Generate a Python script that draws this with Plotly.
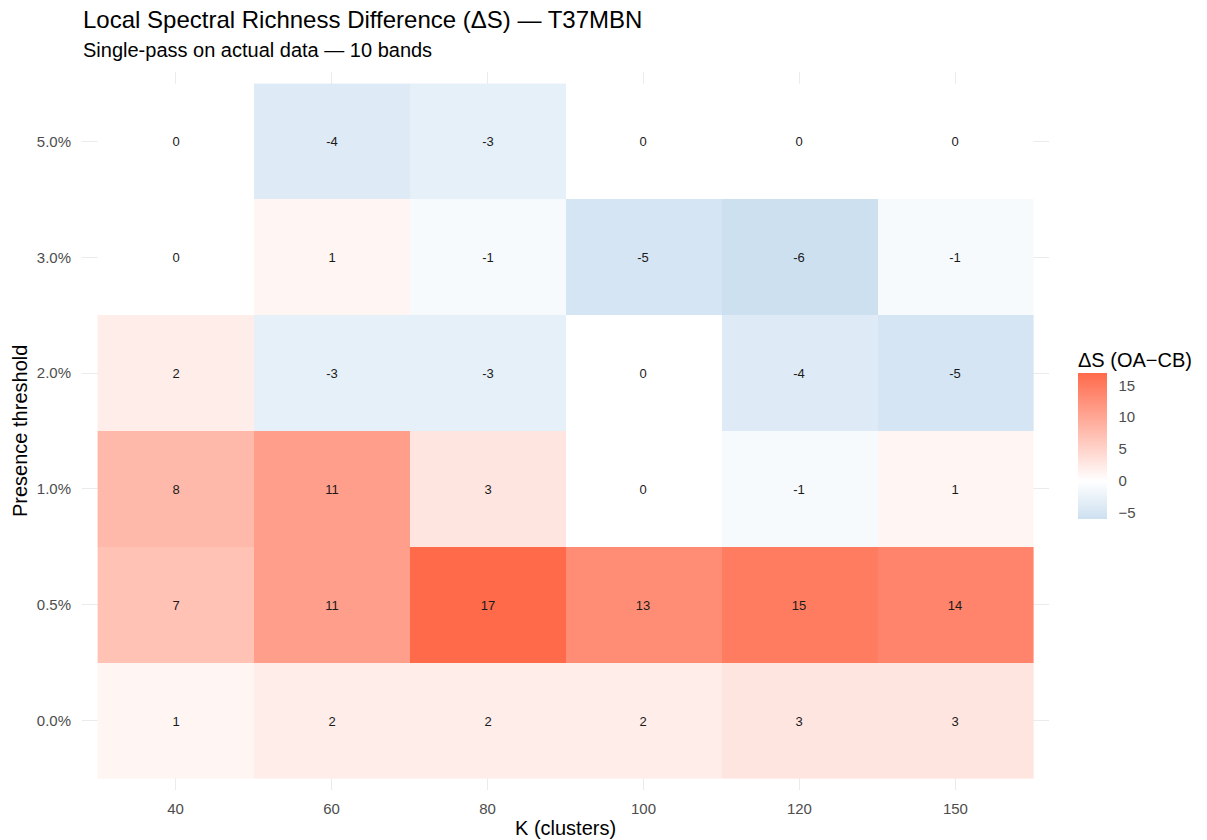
import plotly.graph_objects as go

# K values (columns) and presence thresholds (rows, bottom to top)
k_clusters = ["40", "60", "80", "100", "120", "150"]
thresholds = ["0.0%", "0.5%", "1.0%", "2.0%", "3.0%", "5.0%"]

# Delta S (OA - CB) per threshold row
ds_0_0 = [1, 2, 2, 2, 3, 3]
ds_0_5 = [7, 11, 17, 13, 15, 14]
ds_1_0 = [8, 11, 3, 0, -1, 1]
ds_2_0 = [2, -3, -3, 0, -4, -5]
ds_3_0 = [0, 1, -1, -5, -6, -1]
ds_5_0 = [0, -4, -3, 0, 0, 0]

legend_ticks = [-5, 0, 5, 10, 15]

z = [ds_0_0, ds_0_5, ds_1_0, ds_2_0, ds_3_0, ds_5_0]

zmin = min(min(r) for r in z)
zmax = max(max(r) for r in z)
mid = (0 - zmin) / (zmax - zmin)

FONT = "Arial, Liberation Sans, sans-serif"

fig = go.Figure(
    go.Heatmap(
        z=z,
        x=k_clusters,
        y=thresholds,
        zmin=zmin,
        zmax=zmax,
        colorscale=[[0, "#cde0f0"], [mid, "#ffffff"], [1, "#ff6a4b"]],
        text=z,
        texttemplate="%{text}",
        textfont=dict(family=FONT, size=13, color="#1a1a1a"),
        hoverinfo="x+y+z",
        colorbar=dict(
            thickness=29,
            lenmode="pixels",
            len=146,
            x=1.0305,
            xanchor="left",
            xpad=0,
            y=0.4795,
            yanchor="middle",
            ypad=0,
            outlinewidth=0,
            tickvals=legend_ticks,
            ticks="outside",
            ticklen=9,
            tickcolor="rgba(0,0,0,0)",
            tickfont=dict(family=FONT, size=15, color="#4d4d4d"),
        ),
    )
)

fig.update_layout(
    width=1207,
    height=840,
    margin=dict(l=82, r=158, t=72, b=50),
    paper_bgcolor="white",
    plot_bgcolor="white",
    font=dict(family=FONT),
    annotations=[
        dict(text="Local Spectral Richness Difference (ΔS) — T37MBN",
             xref="paper", yref="paper", x=0.0, y=1.0, xanchor="left", yanchor="top",
             yshift=68, xshift=-1, showarrow=False,
             font=dict(family=FONT, size=24, color="#000000")),
        dict(text="Single-pass on actual data — 10 bands",
             xref="paper", yref="paper", x=0.0, y=1.0, xanchor="left", yanchor="top",
             yshift=35, xshift=-1, showarrow=False,
             font=dict(family=FONT, size=20, color="#000000")),
        dict(text="ΔS (OA\u2212CB)",
             xref="paper", yref="paper", x=1.0305, y=0.4795, xanchor="left", yanchor="bottom",
             yshift=73, xshift=-2, showarrow=False,
             font=dict(family=FONT, size=20, color="#000000")),
        # axis titles
        dict(text="K (clusters)",
             xref="paper", yref="paper", x=0.5, y=0.0, xanchor="center", yanchor="middle",
             yshift=-38, showarrow=False,
             font=dict(family=FONT, size=20, color="#000000")),
        dict(text="Presence threshold", textangle=-90,
             xref="paper", yref="paper", x=0.0, y=0.5, xanchor="center", yanchor="middle",
             xshift=-62, showarrow=False,
             font=dict(family=FONT, size=20, color="#000000")),
    ],
)

fig.update_xaxes(
    type="category",
    range=[-0.6, 5.6],
    automargin=False,
    showgrid=True,
    gridcolor="#ebebeb",
    gridwidth=1,
    zeroline=False,
    showline=False,
    ticks="outside",
    ticklen=5,
    tickcolor="rgba(0,0,0,0)",
    tickfont=dict(family=FONT, size=15, color="#4d4d4d"),
)
fig.update_yaxes(
    type="category",
    range=[-0.6, 5.6],
    automargin=False,
    showgrid=True,
    gridcolor="#ebebeb",
    gridwidth=1,
    zeroline=False,
    showline=False,
    ticks="outside",
    ticklen=7,
    tickcolor="rgba(0,0,0,0)",
    tickfont=dict(family=FONT, size=15, color="#4d4d4d"),
)

fig.write_html("out.html")
